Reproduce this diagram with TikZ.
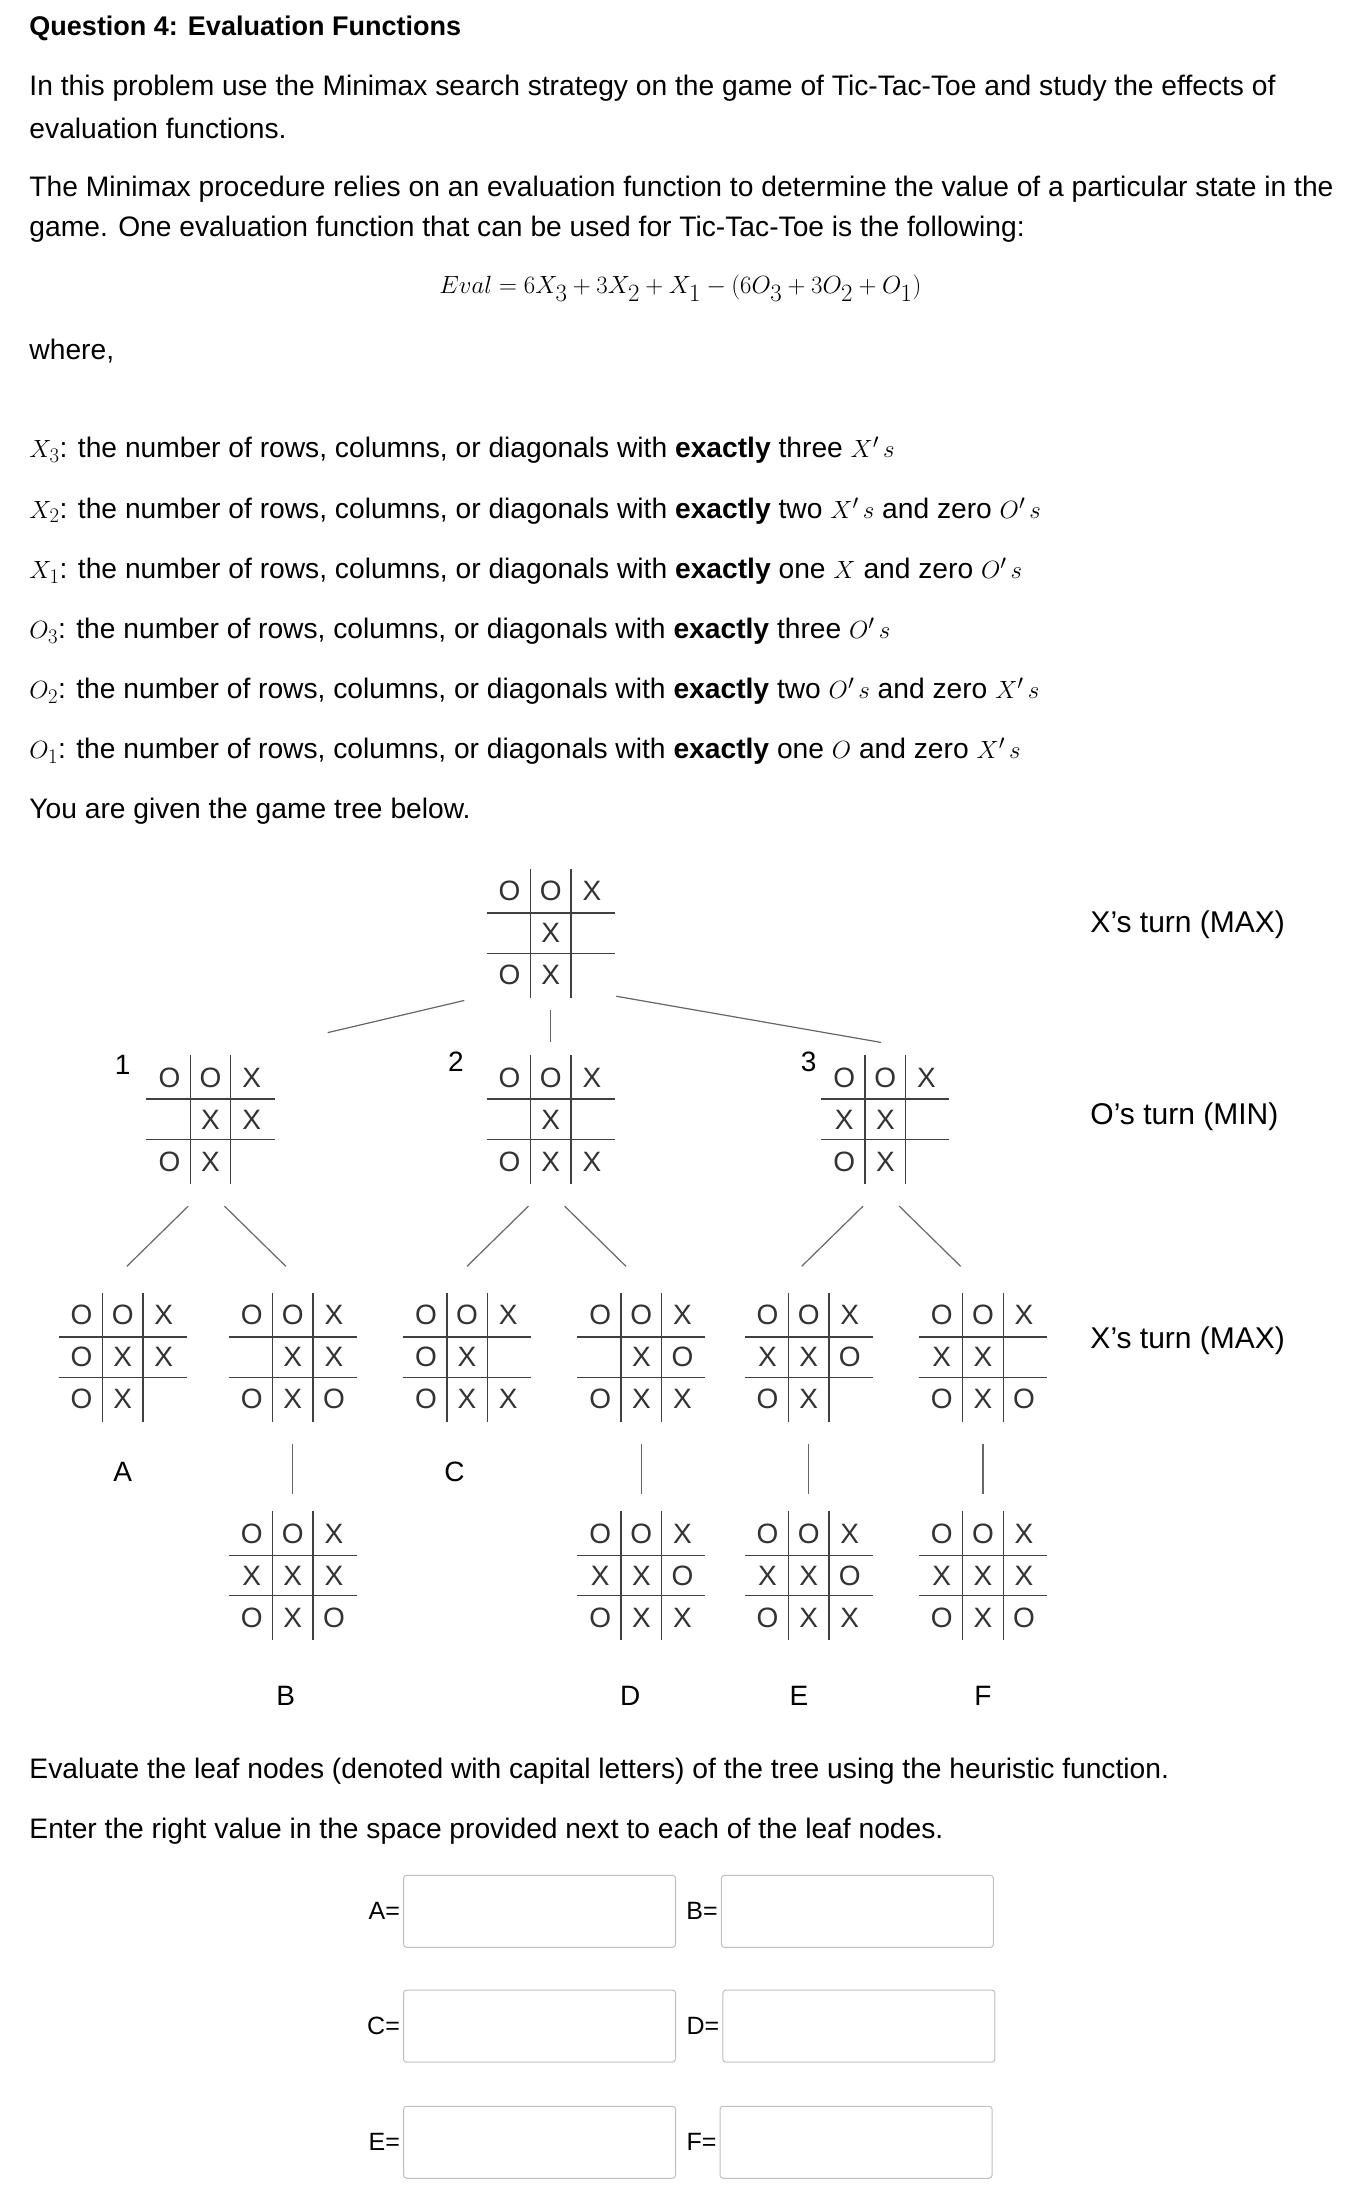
\documentclass[tikz,border=0pt]{standalone}
\usepackage{fontspec}
\setmainfont{Liberation Sans}
\newfontfamily\symf{Liberation Sans}
\newcommand\mm[1]{{\fontsize{32}{32}\selectfont$#1$}}
\begin{document}
\begin{tikzpicture}[x=1.3943pt,y=-1.3993pt,
  txt/.style={anchor=west,inner sep=0pt,font=\fontsize{28.2}{32}\selectfont},
  turn/.style={anchor=west,inner sep=0pt,font=\fontsize{30}{34}\selectfont},
  sym/.style={inner sep=0pt,font=\symf\fontsize{28}{28}\selectfont,text=black!80},
  grid/.style={draw=black!75,line width=1.3pt},
  conn/.style={draw=black!60,line width=1.2pt},
  boardbox/.style={minimum width=130pt,minimum height=130pt,inner sep=0pt},
  ansbox/.style={draw=black!25,rounded corners=3pt,line width=1pt,minimum width=272pt,minimum height=72pt,inner sep=0pt},
  lbl/.style={inner sep=0pt,font=\fontsize{28}{30}\selectfont}]
\useasboundingbox (0,0) rectangle (979,1563);
\newcommand\board[4]{%
  \node[boardbox] (#1) at (#2,#3) {};
  \draw[grid] (#2-46,#3-14.5) -- (#2+46,#3-14.5);
  \draw[grid] (#2-46,#3+14.5) -- (#2+46,#3+14.5);
  \draw[grid] (#2-14.5,#3-46) -- (#2-14.5,#3+46);
  \draw[grid] (#2+14.5,#3-46) -- (#2+14.5,#3+46);
  \foreach \c [count=\i from 0] in {#4} {
    \pgfmathtruncatemacro\cc{mod(\i,3)}
    \pgfmathtruncatemacro\rr{int(\i/3)}
    \node[sym] (#1-\i) at (#2+29.5*\cc-29.5,#3+30*\rr-30) {\c};
  }}
% texts
\node[txt,font=\bfseries\fontsize{27}{30}\selectfont] (title) at (21,20) {Question 4: Evaluation Functions};
\node[txt] (p1a) at (21,63) {In this problem use the Minimax search strategy on the game of Tic-Tac-Toe and study the effects of};
\node[txt] (p1b) at (21,92) {evaluation functions.};
\node[txt] (p2a) at (21,135) {The Minimax procedure relies on an evaluation function to determine the value of a particular state in the};
\node[txt] (p2b) at (21,164) {game. One evaluation function that can be used for Tic-Tac-Toe is the following:};
\node[inner sep=0pt,font=\fontsize{35}{40}\selectfont] (evalf) at (488,206) {$Eval = 6X_3+3X_2+X_1-(6O_3+3O_2+O_1)$};
\node[txt] (where) at (21,251) {where,};
\node[txt] (l1) at (21,322) {\mm{X_3}: the number of rows, columns, or diagonals with \textbf{exactly} three \mm{X'\,s}};
\node[txt] (l2) at (21,365) {\mm{X_2}: the number of rows, columns, or diagonals with \textbf{exactly} two \mm{X'\,s} and zero \mm{O'\,s}};
\node[txt] (l3) at (21,408) {\mm{X_1}: the number of rows, columns, or diagonals with \textbf{exactly} one \mm{X} and zero \mm{O'\,s}};
\node[txt] (l4) at (21,451) {\mm{O_3}: the number of rows, columns, or diagonals with \textbf{exactly} three \mm{O'\,s}};
\node[txt] (l5) at (21,494) {\mm{O_2}: the number of rows, columns, or diagonals with \textbf{exactly} two \mm{O'\,s} and zero \mm{X'\,s}};
\node[txt] (l6) at (21,537) {\mm{O_1}: the number of rows, columns, or diagonals with \textbf{exactly} one \mm{O} and zero \mm{X'\,s}};
\node[txt] (given) at (21,580) {You are given the game tree below.};
% turns
\node[turn] (t1) at (782,661) {X's turn (MAX)};
\node[turn] (t2) at (782,798) {O's turn (MIN)};
\node[turn] (t3) at (782,958) {X's turn (MAX)};
% boards
\board{root}{395}{667}{O,O,X,,X,,O,X,}
\board{b1}{151}{800}{O,O,X,,X,X,O,X,}
\board{b2}{395}{800}{O,O,X,,X,,O,X,X}
\board{b3}{635}{800}{O,O,X,X,X,,O,X,}
\board{bA}{88}{970}{O,O,X,O,X,X,O,X,}
\board{bBp}{210}{970}{O,O,X,,X,X,O,X,O}
\board{bC}{335}{970}{O,O,X,O,X,,O,X,X}
\board{bDp}{460}{970}{O,O,X,,X,O,O,X,X}
\board{bEp}{580}{970}{O,O,X,X,X,O,O,X,}
\board{bFp}{705}{970}{O,O,X,X,X,,O,X,O}
\board{bB}{210}{1126}{O,O,X,X,X,X,O,X,O}
\board{bD}{460}{1126}{O,O,X,X,X,O,O,X,X}
\board{bE}{580}{1126}{O,O,X,X,X,O,O,X,X}
\board{bF}{705}{1126}{O,O,X,X,X,X,O,X,O}
\node[lbl] (n1) at (88,761) {1};
\node[lbl] (n2) at (327,759) {2};
\node[lbl] (n3) at (580,759) {3};
\node[lbl] (LA) at (88,1052) {A};
\node[lbl] (LC) at (326,1052) {C};
\node[lbl] (LB) at (205,1212) {B};
\node[lbl] (LD) at (452,1212) {D};
\node[lbl] (LE) at (573,1212) {E};
\node[lbl] (LF) at (705,1212) {F};
% connectors
\coordinate (r1) at (333,715); \coordinate (r1e) at (235,738);
\coordinate (r2) at (395,722); \coordinate (r2e) at (395,745);
\coordinate (r3) at (442,712); \coordinate (r3e) at (632,745);
\draw[conn] (r1) -- (r1e); \draw[conn] (r2) -- (r2e); \draw[conn] (r3) -- (r3e);
\foreach \dx/\n in {151/a,395/b,635/c}{
  \coordinate (s1\n) at (\dx-16,862); \coordinate (e1\n) at (\dx-60,905);
  \coordinate (s2\n) at (\dx+10,862); \coordinate (e2\n) at (\dx+54,905);
  \draw[conn] (s1\n) -- (e1\n); \draw[conn] (s2\n) -- (e2\n);}
\foreach \x/\n in {210/a,460/b,580/c,705/d}{
  \coordinate (v1\n) at (\x,1032); \coordinate (v2\n) at (\x,1068);
  \draw[conn] (v1\n) -- (v2\n);}
% bottom text
\node[txt] (ev) at (21,1266) {Evaluate the leaf nodes (denoted with capital letters) of the tree using the heuristic function.};
\node[txt] (en) at (21,1309) {Enter the right value in the space provided next to each of the leaf nodes.};
\foreach \L/\x/\y in {A/387/1366,C/387/1448,E/387/1531,B/615/1366,D/616/1448,F/614/1531}{
  \node[ansbox] (box\L) at (\x,\y) {};
  \node[lbl,anchor=east,font=\fontsize{25}{28}\selectfont] (eq\L) at ([xshift=-3pt]box\L.west) {\L=};}
\end{tikzpicture}
\end{document}
